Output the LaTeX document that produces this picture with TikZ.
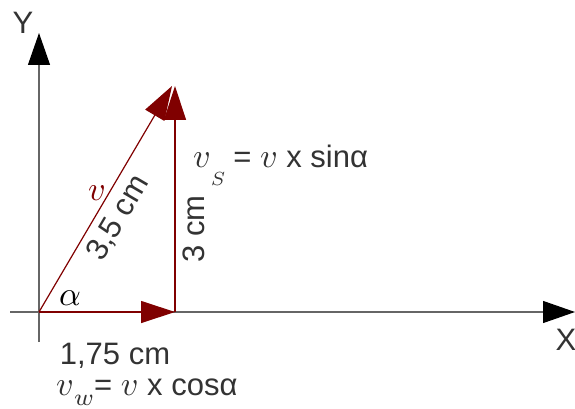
\documentclass[tikz,border=0pt]{standalone}
\usepackage{graphicx}
\usepackage{fontspec}
\setmainfont{Liberation Sans}
\usetikzlibrary{arrows.meta}
\definecolor{txt}{HTML}{333333}
\definecolor{axisc}{HTML}{666666}
\definecolor{vec}{HTML}{800000}
\newcommand\mymath[1]{\scalebox{3.4}{\normalsize$#1$}}
\begin{document}
\begin{tikzpicture}[x=1pt,y=-1pt,
  axis/.style={draw=axisc,line width=1.2pt,-{Triangle[length=32pt,width=22pt,fill=black,color=black]}},
  vecline/.style={draw=vec,line width=1.2pt,-{Triangle[length=34pt,width=22pt,color=vec]}},
  lbl/.style={text=txt,inner sep=0pt,font=\fontsize{31}{36}\selectfont},
  every node/.style={inner sep=0pt}]
\useasboundingbox (0,0) rectangle (575,409);
\coordinate (O) at (39,312);
\coordinate (xs) at (10,312);
\coordinate (xe) at (575,312);
\coordinate (ys) at (39,342);
\coordinate (ye) at (39,33);
\coordinate (H) at (175,312);
\coordinate (V) at (175,86);
\coordinate (D) at (172,86);
\draw[axis] (xs) -- (xe);
\draw[axis] (ys) -- (ye);
\draw[vecline] (O) -- (H);
\draw[vecline] (H) -- (V);
\draw[vecline] (O) -- (D);
\node[lbl] (Y) at (23,23) {Y};
\node[lbl] (X) at (566,340) {X};
\node[lbl,text=black] (alpha) at (70,298) {\mymath{\alpha}};
\node[lbl,text=vec] (v) at (97,193) {\mymath{v}};
\node[lbl,rotate=59.5] (l35) at (118,218) {3,5 cm};
\node[lbl,rotate=90] (l3) at (194,229) {3 cm};
\node[lbl] (l175) at (115,356) {1,75 cm};
\node[lbl,anchor=base west] (vs) at (193,167) {\mymath{v\raisebox{-5.3pt}{\scalebox{0.8}{$\scriptstyle S$}}}\hspace{8pt}= \mymath{v} x sinα};
\node[lbl,anchor=base west] (vw) at (56,395) {\mymath{v\raisebox{-3pt}{$\scriptstyle w$}}= \mymath{v} x cosα};
\end{tikzpicture}
\end{document}
